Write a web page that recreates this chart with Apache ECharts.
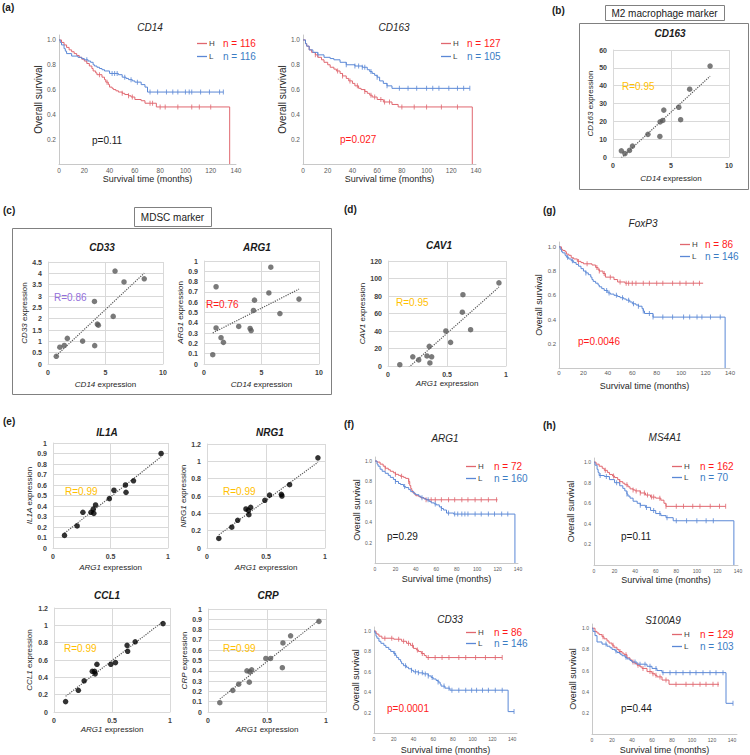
<!DOCTYPE html>
<html><head><meta charset="utf-8">
<script src="https://cdn.jsdelivr.net/npm/echarts@6/dist/echarts.min.js"></script>
<style>html,body{margin:0;padding:0;background:#fff}#c{width:750px;height:755px}</style>
</head><body><div id="c"></div>
<script>
// ---------------- Kaplan-Meier step data: [time (months), survival] ----------------
const km_CD14_H = [[0,1],[2,0.98],[4,0.96],[6,0.94],[8,0.92],[10,0.905],[12,0.89],[14,0.875],[16,0.86],[18,0.845],[20,0.83],[22,0.81],[24,0.79],[26,0.77],[27,0.75],[29,0.735],[30,0.72],[34,0.70],[36,0.68],[37,0.66],[39,0.64],[40,0.62],[42,0.61],[43,0.60],[45,0.59],[47,0.58],[50,0.57],[52,0.56],[55,0.55],[57,0.54],[60,0.52],[65,0.51],[68,0.49],[77,0.46],[135,0]];
const km_CD14_L = [[0,1],[1,0.98],[2,0.96],[4,0.93],[5,0.91],[6,0.89],[10,0.87],[15,0.86],[18,0.85],[20,0.84],[23,0.83],[25,0.82],[27,0.80],[28,0.79],[30,0.78],[32,0.77],[34,0.76],[36,0.75],[40,0.73],[47,0.72],[50,0.70],[53,0.69],[55,0.68],[58,0.67],[60,0.66],[65,0.64],[68,0.62],[70,0.58],[130,0.58]];
const cens_CD14_H = [32,38,50,55,58,72,74,80,84,94,105,111,120];
const cens_CD14_L = [22,42,44,46,52,57,62,72,78,85,90,94,100,103,105,112,119,127,130];

const km_CD163_H = [[0,1],[2,0.97],[3,0.95],[5,0.92],[7,0.90],[10,0.88],[12,0.86],[15,0.84],[17,0.82],[20,0.80],[22,0.78],[25,0.765],[27,0.75],[30,0.73],[32,0.71],[35,0.69],[37,0.67],[40,0.65],[42,0.63],[45,0.61],[47,0.60],[50,0.585],[52,0.57],[54,0.555],[56,0.54],[60,0.52],[65,0.50],[72,0.48],[77,0.46],[137,0]];
const km_CD163_L = [[0,1],[2,0.97],[3,0.95],[5,0.92],[8,0.90],[12,0.88],[17,0.86],[22,0.85],[25,0.84],[30,0.82],[35,0.80],[42,0.79],[48,0.78],[52,0.76],[54,0.745],[56,0.73],[58,0.715],[60,0.70],[62,0.67],[65,0.65],[68,0.63],[72,0.61],[135,0.61]];
const cens_CD163_H = [10,28,32,38,44,50,55,58,63,66,70,80,90,100,112,125];
const cens_CD163_L = [12,35,42,45,48,50,55,60,68,78,85,92,100,105,110,118,125,130,135];

const km_FoxP3_H = [[0,1],[2,0.98],[3,0.97],[5,0.96],[6,0.94],[8,0.93],[10,0.91],[12,0.90],[15,0.88],[18,0.87],[20,0.86],[27,0.85],[30,0.83],[32,0.81],[33,0.80],[36,0.78],[38,0.75],[45,0.73],[48,0.71],[54,0.70],[118,0.70]];
const km_FoxP3_L = [[0,1],[1,0.98],[2,0.96],[3,0.95],[5,0.93],[6,0.915],[8,0.90],[10,0.885],[12,0.87],[14,0.855],[16,0.84],[18,0.82],[20,0.80],[22,0.785],[24,0.77],[26,0.75],[27,0.73],[28,0.715],[30,0.70],[32,0.685],[33,0.67],[35,0.655],[37,0.64],[40,0.62],[42,0.61],[45,0.60],[48,0.59],[50,0.58],[53,0.57],[55,0.56],[58,0.545],[60,0.53],[63,0.52],[65,0.51],[68,0.49],[69,0.47],[70,0.45],[77,0.42],[136,0]];
const cens_FoxP3_H = [16,23,31,33,37,42,50,55,57,60,63,69,74,80,85,93,99,104,110,115];
const cens_FoxP3_L = [7,11,22,39,41,47,52,57,61,65,69,74,77,85,93,102,107,113,117,124,132];

const km_ARG1_H = [[0,1],[2,0.99],[5,0.97],[8,0.95],[10,0.93],[13,0.915],[15,0.90],[18,0.885],[20,0.87],[23,0.86],[25,0.85],[28,0.84],[30,0.83],[33,0.80],[34,0.76],[35,0.73],[36,0.71],[37,0.69],[39,0.67],[40,0.66],[43,0.65],[45,0.64],[48,0.63],[50,0.62],[120,0.62]];
const km_ARG1_L = [[0,1],[2,0.97],[3,0.95],[5,0.92],[7,0.90],[10,0.88],[13,0.86],[15,0.84],[18,0.82],[20,0.80],[23,0.78],[25,0.77],[28,0.75],[30,0.74],[33,0.72],[35,0.70],[38,0.68],[40,0.67],[43,0.655],[45,0.64],[48,0.63],[50,0.62],[53,0.605],[55,0.59],[58,0.58],[60,0.57],[63,0.55],[65,0.535],[67,0.52],[70,0.49],[77,0.48],[137,0]];
const cens_ARG1_H = [10,20,26,33,50,55,59,65,72,78,85,91,98,104,111,119];
const cens_ARG1_L = [20,29,46,52,59,65,72,78,81,85,88,91,98,104,111,117,124,130];

const km_CD33_H = [[0,1],[2,0.98],[3,0.97],[5,0.95],[8,0.93],[20,0.92],[28,0.90],[33,0.88],[37,0.86],[40,0.83],[43,0.815],[45,0.80],[48,0.78],[51,0.76],[53,0.74],[130,0.74]];
const km_CD33_L = [[0,1],[1,0.98],[2,0.95],[3,0.93],[5,0.90],[7,0.88],[10,0.86],[12,0.84],[15,0.82],[17,0.80],[20,0.78],[22,0.76],[23,0.74],[25,0.72],[27,0.70],[28,0.68],[30,0.66],[33,0.645],[35,0.63],[38,0.615],[40,0.60],[45,0.59],[50,0.58],[55,0.56],[58,0.545],[60,0.53],[63,0.515],[65,0.50],[67,0.48],[68,0.46],[72,0.44],[77,0.42],[136,0.21],[142,0.21]];
const cens_CD33_H = [11,18,25,30,35,39,44,49,55,62,69,76,86,93,103,113,123,130];
const cens_CD33_L = [21,32,38,42,45,49,52,55,59,65,71,76,79,86,93,99,104,110,116,123,130,142];

const km_MS4A1_H = [[0,1],[2,0.98],[5,0.96],[8,0.94],[10,0.92],[13,0.90],[15,0.88],[18,0.865],[20,0.85],[23,0.83],[25,0.81],[28,0.795],[30,0.78],[33,0.76],[35,0.74],[38,0.73],[40,0.72],[45,0.70],[50,0.68],[55,0.66],[60,0.65],[65,0.63],[68,0.60],[70,0.57],[128,0.57]];
const km_MS4A1_L = [[0,1],[1,0.97],[3,0.93],[4,0.90],[5,0.87],[10,0.86],[15,0.83],[20,0.80],[25,0.77],[28,0.745],[30,0.72],[32,0.69],[33,0.67],[35,0.65],[38,0.62],[42,0.60],[45,0.58],[50,0.56],[55,0.53],[60,0.50],[65,0.48],[70,0.46],[77,0.43],[136,0]];
const cens_MS4A1_H = [11,19,25,32,38,41,45,49,52,56,58,64,70,80,87,96,103,113,122,128];
const cens_MS4A1_L = [6,12,22,32,45,51,58,64,71,80,90,100,109,116];

const km_S100A9_H = [[0,1],[3,0.97],[5,0.955],[7,0.94],[10,0.92],[12,0.90],[15,0.88],[17,0.86],[20,0.84],[22,0.82],[25,0.80],[27,0.78],[30,0.765],[32,0.75],[35,0.72],[38,0.70],[40,0.68],[43,0.665],[45,0.65],[48,0.635],[50,0.62],[55,0.59],[60,0.57],[63,0.555],[65,0.54],[70,0.51],[77,0.47],[127,0.47]];
const km_S100A9_L = [[0,1],[1,0.97],[3,0.93],[5,0.87],[10,0.85],[15,0.83],[18,0.815],[20,0.80],[23,0.785],[25,0.77],[28,0.755],[30,0.74],[33,0.725],[35,0.71],[38,0.695],[40,0.68],[45,0.66],[55,0.64],[60,0.62],[65,0.60],[70,0.58],[134,0.29],[141,0.29]];
const cens_S100A9_H = [11,21,28,34,41,46,51,58,61,64,68,74,84,94,101,108,114,121,126];
const cens_S100A9_L = [14,24,34,43,48,53,58,64,71,78,84,91,98,104,111,118,124,131,141];

// ---------------- Correlation scatter data ----------------
const cd14Expr     = [0.72,1.03,1.42,1.68,3.01,4.04,4.06,4.29,4.38,5.67,5.83,6.61,8.37];
const cd163Expr    = [3.5,1.9,3.7,6.1,12.7,11.5,19.7,20.5,26.3,27.9,20.9,38.0,51.0];
const cd33Expr     = [0.34,0.74,0.82,1.13,1.01,2.76,0.81,1.76,1.71,2.10,4.10,3.62,3.76];
const cd14ExprB    = [0.76,1.05,1.05,1.48,1.69,3.02,4.01,4.10,4.30,4.39,5.64,5.81,6.60,8.26];
const arg1ExprB    = [0.09,0.75,0.35,0.255,0.21,0.365,0.345,0.325,0.52,0.62,0.69,0.94,0.49,0.63];
const arg1Expr     = [0.10,0.21,0.26,0.33,0.35,0.355,0.37,0.49,0.53,0.63,0.635,0.70,0.94];
const cav1Expr     = [1.5,10.5,7,11.5,22.5,3.5,10.5,40,27,61.5,81.5,41.5,95];
const il1aExpr     = [0.12,0.21,0.34,0.34,0.37,0.33,0.41,0.47,0.55,0.60,0.53,0.64,0.90];
const nrg1Expr     = [0.11,0.24,0.32,0.45,0.435,0.385,0.47,0.55,0.61,0.62,0.60,0.73,1.04];
const ccl1Expr     = [0.12,0.25,0.36,0.47,0.47,0.44,0.55,0.55,0.57,0.77,0.70,0.81,1.02];
const crpExpr      = [0.09,0.21,0.27,0.40,0.29,0.39,0.41,0.52,0.52,0.43,0.67,0.74,0.88];

// ---------------- Build ----------------
const FF = '"Liberation Sans", Arial, sans-serif';
const RED_LINE = '#e0676f', BLUE_LINE = '#5b88d6';
const RED_TXT = '#ff1a1a', BLUE_TXT = '#3b7cc4';
const NAME_COL = '#262626';
const grids = [], xAxes = [], yAxes = [], series = [], els = [];

function txt(x, y, text, font, fill, align) {
  return {type:'text', x:x, y:y, silent:true, z:100,
    style:{text:text, font:font, fill:fill, textAlign:align||'left', align:align||'left',
           textVerticalAlign:'middle', verticalAlign:'middle'}};
}
function box(x, y, w, h) {
  return {type:'rect', silent:true, shape:{x:x+0.5, y:y+0.5, width:w, height:h},
    style:{fill:'none', stroke:'#808080', lineWidth:1}};
}
function hline(x1, x2, y, col) {
  return {type:'line', silent:true, shape:{x1:x1, y1:y+0.5, x2:x2, y2:y+0.5}, style:{stroke:col, lineWidth:1.3}};
}
function stepAt(curve, t) {
  let v = curve[0][1];
  for (const p of curve) { if (p[0] <= t) v = p[1]; else break; }
  return v;
}
function linfit(xs, ys) {
  const n = xs.length; let sx=0, sy=0, sxx=0, sxy=0;
  for (let i=0;i<n;i++){ sx+=xs[i]; sy+=ys[i]; sxx+=xs[i]*xs[i]; sxy+=xs[i]*ys[i]; }
  const b = (n*sxy - sx*sy)/(n*sxx - sx*sx); const a = (sy - b*sx)/n;
  return {a:a, b:b};
}

function kmPanel(o) {
  const gi = grids.length;
  grids.push({left:o.box[0], top:o.box[1], width:o.box[2], height:o.box[3]});
  xAxes.push({gridIndex:gi, type:'value', min:0, max:o.xmax, interval:20,
    axisLine:{show:true, onZero:false, lineStyle:{color:'#c8c8c8', width:1}},
    axisTick:{show:false}, splitLine:{show:false},
    axisLabel:{fontSize:o.tf, color:'#595959', fontFamily:FF, margin:o.xm,
      formatter:function(v){ return (v%20===0 && v<=140) ? String(v) : ''; }},
    name:'Survival time (months)', nameLocation:'middle', nameGap:o.xGap,
    nameTextStyle:{fontSize:9, color:NAME_COL, fontFamily:FF}});
  yAxes.push({gridIndex:gi, type:'value', min:0, max:1.04, interval:0.2,
    axisLine:{show:true, onZero:false, lineStyle:{color:'#c8c8c8', width:1}},
    axisTick:{show:false}, splitLine:{show:false},
    axisLabel:{fontSize:o.tf, color:'#595959', fontFamily:FF, margin:3,
      formatter:function(v){ return (v>0.01 && v<1.01) ? v.toFixed(1) : ''; }},
    name:'Overall survival', nameLocation:'middle', nameGap:o.yGap,
    nameTextStyle:{fontSize:o.yf, color:NAME_COL, fontFamily:FF}});
  [[o.H, o.Hc, RED_LINE], [o.L, o.Lc, BLUE_LINE]].forEach(function(c) {
    series.push({type:'line', xAxisIndex:gi, yAxisIndex:gi, data:c[0], step:'end', symbol:'none',
      lineStyle:{color:c[2], width:1}, itemStyle:{color:c[2]}, silent:true, animation:false});
    series.push({type:'scatter', xAxisIndex:gi, yAxisIndex:gi,
      data:c[1].map(function(t){ return [t, stepAt(c[0], t)]; }),
      symbol:'rect', symbolSize:[1,5], itemStyle:{color:c[2]}, silent:true, animation:false});
  });
  els.push(txt(o.title[0], o.title[1], o.name, 'italic 10px ' + FF, '#262626', 'center'));
  const g = o.leg;
  els.push(hline(g.lx, g.lx+10, g.yH, RED_LINE));
  els.push(hline(g.lx, g.lx+10, g.yL, BLUE_LINE));
  els.push(txt(g.lx+12, g.yH, 'H', '8px ' + FF, '#404040', 'left'));
  els.push(txt(g.lx+12, g.yL, 'L', '8px ' + FF, '#404040', 'left'));
  els.push(txt(g.nx, g.yH, 'n = ' + o.nH, '10px ' + FF, RED_TXT, 'left'));
  els.push(txt(g.nx, g.yL, 'n = ' + o.nL, '10px ' + FF, BLUE_TXT, 'left'));
  els.push(txt(o.p[0], o.p[1], o.pText, '10px ' + FF, o.pCol, 'left'));
}

function scPanel(o) {
  const gi = grids.length;
  grids.push({left:o.box[0], top:o.box[1], width:o.box[2], height:o.box[3]});
  const lab = {fontSize:7, fontWeight:'bold', color:'#404040', fontFamily:FF};
  const nts = {fontSize:8, color:NAME_COL, fontFamily:FF,
    rich:{i:{fontSize:8, fontStyle:'italic', color:NAME_COL, fontFamily:FF}}};
  const gl = {show:true, lineStyle:{color:'#d9d9d9', width:1}};
  xAxes.push({gridIndex:gi, type:'value', min:o.xr[0], max:o.xr[1], interval:o.xr[2],
    axisLine:{show:true, onZero:false, lineStyle:{color:'#d9d9d9'}}, axisTick:{show:false}, splitLine:gl,
    axisLabel:Object.assign({margin:5}, lab),
    name:'{i|' + o.xg + '} expression', nameLocation:'middle', nameGap:o.xGap, nameTextStyle:nts});
  yAxes.push({gridIndex:gi, type:'value', min:o.yr[0], max:o.yr[1], interval:o.yr[2],
    axisLine:{show:true, onZero:false, lineStyle:{color:'#d9d9d9'}}, axisTick:{show:false}, splitLine:gl,
    axisLabel:Object.assign({margin:6}, lab),
    name:'{i|' + o.yg + '} expression', nameLocation:'middle', nameGap:o.yGap, nameTextStyle:nts});
  series.push({type:'scatter', xAxisIndex:gi, yAxisIndex:gi,
    data:o.xs.map(function(x,i){ return [x, o.ys[i]]; }),
    symbolSize:5.5, itemStyle:{color:o.dot}, silent:true, animation:false, z:3});
  const f = linfit(o.xs, o.ys);
  const x0 = Math.min.apply(null, o.xs), x1 = Math.max.apply(null, o.xs);
  series.push({type:'line', xAxisIndex:gi, yAxisIndex:gi, clip:true,
    data:[[x0, f.a + f.b*x0], [x1, f.a + f.b*x1]], symbol:'none',
    lineStyle:{type:'dotted', color:'#595959', width:1.2}, silent:true, animation:false, z:2});
  els.push(txt(o.title[0], o.title[1], o.yg, 'italic bold 10px ' + FF, '#1a1a1a', 'center'));
  els.push(txt(o.r[0], o.r[1], o.rText, '10px ' + FF, o.rCol, 'left'));
}

// ---- (a) ----
kmPanel({box:[59,35,177,129], xmax:140, tf:6.5, xm:3, xGap:7, yGap:13, yf:10,
  H:km_CD14_H, L:km_CD14_L, Hc:cens_CD14_H, Lc:cens_CD14_L, name:'CD14', title:[150,27],
  leg:{lx:197, nx:223, yH:43, yL:56}, nH:116, nL:116, p:[92,140], pText:'p=0.11', pCol:'#1a1a1a'});
kmPanel({box:[303,35,173,129], xmax:140, tf:6.5, xm:3, xGap:7, yGap:12, yf:10,
  H:km_CD163_H, L:km_CD163_L, Hc:cens_CD163_H, Lc:cens_CD163_L, name:'CD163', title:[394,27],
  leg:{lx:441, nx:467, yH:43, yL:56}, nH:127, nL:105, p:[340,139], pText:'p=0.027', pCol:RED_TXT});
// ---- (g) ----
kmPanel({box:[559,242,171,126], xmax:140, tf:6, xm:2, xGap:13, yGap:13, yf:9,
  H:km_FoxP3_H, L:km_FoxP3_L, Hc:cens_FoxP3_H, Lc:cens_FoxP3_L, name:'FoxP3', title:[643,223],
  leg:{lx:680, nx:705, yH:244, yL:256}, nH:86, nL:146, p:[578,341], pText:'p=0.0046', pCol:RED_TXT});
// ---- (f) ----
kmPanel({box:[375,457,143,106], xmax:140, tf:5, xm:3, xGap:11, yGap:14, yf:9,
  H:km_ARG1_H, L:km_ARG1_L, Hc:cens_ARG1_H, Lc:cens_ARG1_L, name:'ARG1', title:[445,438],
  leg:{lx:466, nx:494, yH:466, yL:478}, nH:72, nL:160, p:[387,536], pText:'p=0.29', pCol:'#1a1a1a'});
kmPanel({box:[374,627,143,106], xmax:145, tf:5, xm:3, xGap:12, yGap:14, yf:9,
  H:km_CD33_H, L:km_CD33_L, Hc:cens_CD33_H, Lc:cens_CD33_L, name:'CD33', title:[450,619],
  leg:{lx:466, nx:494, yH:632, yL:643}, nH:86, nL:146, p:[387,708], pText:'p=0.0001', pCol:RED_TXT});
// ---- (h) ----
kmPanel({box:[594,458,144,107], xmax:140, tf:5, xm:3, xGap:10, yGap:19, yf:9,
  H:km_MS4A1_H, L:km_MS4A1_L, Hc:cens_MS4A1_H, Lc:cens_MS4A1_L, name:'MS4A1', title:[665,437],
  leg:{lx:672, nx:700, yH:466, yL:477}, nH:162, nL:70, p:[621,536], pText:'p=0.11', pCol:'#1a1a1a'});
kmPanel({box:[592,624,145,110], xmax:145, tf:5, xm:3, xGap:11, yGap:15, yf:9,
  H:km_S100A9_H, L:km_S100A9_L, Hc:cens_S100A9_H, Lc:cens_S100A9_L, name:'S100A9', title:[663,620],
  leg:{lx:672, nx:700, yH:634, yL:646}, nH:129, nL:103, p:[621,708], pText:'p=0.44', pCol:'#1a1a1a'});

// ---- (b) ----
scPanel({box:[613,50,116,107], xr:[0,10,5], yr:[0,60,10], xs:cd14Expr, ys:cd163Expr, xg:'CD14', yg:'CD163',
  xGap:17, yGap:19, dot:'#595959', title:[670,33], r:[622,86], rText:'R=0.95', rCol:'#ffc000'});
// ---- (c) ----
scPanel({box:[48,262,115,102], xr:[0,10,5], yr:[0,4.5,0.5], xs:cd14Expr, ys:cd33Expr, xg:'CD14', yg:'CD33',
  xGap:16, yGap:19, dot:'#595959', title:[102,247], r:[54,297], rText:'R=0.86', rCol:'#9370db'});
scPanel({box:[204,261,115,103], xr:[0,10,5], yr:[0,1,0.1], xs:cd14ExprB, ys:arg1ExprB, xg:'CD14', yg:'ARG1',
  xGap:16, yGap:20, dot:'#595959', title:[257,247], r:[206,304], rText:'R=0.76', rCol:'#ff1a1a'});
// ---- (d) ----
scPanel({box:[388,261,118,105], xr:[0,1,0.5], yr:[0,120,20], xs:arg1Expr, ys:cav1Expr, xg:'ARG1', yg:'CAV1',
  xGap:13, yGap:20, dot:'#595959', title:[439,245], r:[396,302], rText:'R=0.95', rCol:'#ffc000'});
// ---- (e) ----
scPanel({box:[53,443,115,105], xr:[0,1,0.5], yr:[0,1,0.1], xs:arg1Expr, ys:il1aExpr, xg:'ARG1', yg:'IL1A',
  xGap:15, yGap:19, dot:'#000000', title:[107,432], r:[65,491], rText:'R=0.99', rCol:'#ffc000'});
scPanel({box:[207,444,118,104], xr:[0,1,0.5], yr:[0,1.2,0.2], xs:arg1Expr, ys:nrg1Expr, xg:'ARG1', yg:'NRG1',
  xGap:15, yGap:18, dot:'#000000', title:[270,432], r:[223,491], rText:'R=0.99', rCol:'#ffc000'});
scPanel({box:[54,608,116,104], xr:[0,1,0.5], yr:[0,1.2,0.2], xs:arg1Expr, ys:ccl1Expr, xg:'ARG1', yg:'CCL1',
  xGap:13, yGap:21, dot:'#000000', title:[107,595], r:[64,648], rText:'R=0.99', rCol:'#ffc000'});
scPanel({box:[208,609,118,103], xr:[0,1,0.5], yr:[0,1,0.1], xs:arg1Expr, ys:crpExpr, xg:'ARG1', yg:'CRP',
  xGap:13, yGap:19, dot:'#595959', title:[268,595], r:[223,648], rText:'R=0.99', rCol:'#ffc000'});

// ---- boxes & panel labels ----
els.push(box(579,23,169,166));
els.push(box(605,5,119,15));
els.push(txt(664.5,13,'M2 macrophage marker','10px ' + FF,'#1a1a1a','center'));
els.push(box(12,228,319,166));
els.push(box(134,207,77,19));
els.push(txt(172.5,217,'MDSC marker','10px ' + FF,'#1a1a1a','center'));
[['(a)',2,7],['(b)',552,10],['(c)',3,210],['(d)',344,209],['(e)',3,421],['(f)',344,424],['(g)',543,210],['(h)',543,425]]
  .forEach(function(l){ els.push(txt(l[1], l[2], l[0], 'bold 10px ' + FF, '#1a1a1a', 'left')); });

const chart = echarts.init(document.getElementById('c'), null, {renderer:'svg'});
chart.setOption({
  animation:false,
  backgroundColor:'#ffffff',
  textStyle:{fontFamily:FF},
  grid:grids, xAxis:xAxes, yAxis:yAxes, series:series,
  graphic:{elements:els}
});
</script></body></html>
